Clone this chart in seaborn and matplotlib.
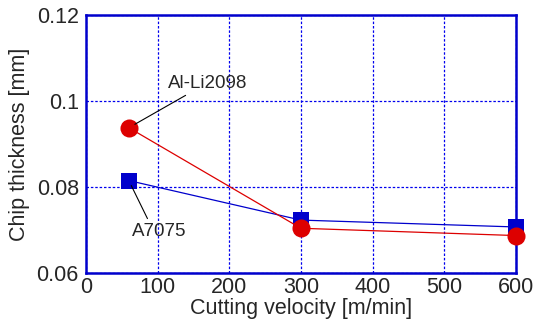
import matplotlib
matplotlib.use("Agg")
import matplotlib.pyplot as plt
import seaborn as sns
import pandas as pd

# Data
velocity = [60, 300, 600]
al_li2098 = [0.0938, 0.0704, 0.0687]
a7075 = [0.0815, 0.0723, 0.0707]

df = pd.DataFrame({
    "velocity": velocity * 2,
    "thickness": al_li2098 + a7075,
    "alloy": ["Al-Li2098"] * 3 + ["A7075"] * 3,
})

sns.set_style("white")
plt.rcParams["font.family"] = ["Liberation Sans", "DejaVu Sans"]

fig, ax = plt.subplots(figsize=(5.33, 3.23), dpi=100)

# blue squares drawn first, red circles on top
sns.lineplot(data=df[df["alloy"] == "A7075"], x="velocity", y="thickness",
             color="#0000cc", marker="s", markersize=11, markeredgewidth=0,
             linewidth=0.9, ax=ax, legend=False, clip_on=False)
sns.lineplot(data=df[df["alloy"] == "Al-Li2098"], x="velocity", y="thickness",
             color="#dd0000", marker="o", markersize=13, markeredgewidth=0,
             linewidth=0.9, ax=ax, legend=False, clip_on=False)

ax.set_xlim(0, 600)
ax.set_ylim(0.06, 0.12)
ax.set_xticks([0, 100, 200, 300, 400, 500, 600])
ax.set_yticks([0.06, 0.08, 0.1, 0.12])
ax.set_yticklabels(["0.06", "0.08", "0.1", "0.12"])
ax.tick_params(length=0, labelsize=15.5)
ax.tick_params(axis="y", pad=5)
ax.tick_params(axis="x", pad=3)

ax.grid(True, color="#0000ee", linestyle=(0, (2, 1.5)), linewidth=0.9)
ax.set_axisbelow(True)
for sp in ax.spines.values():
    sp.set_color("#0000cc")
    sp.set_linewidth(1.8)
    sp.set_zorder(1.5)

ax.set_xlabel("Cutting velocity [m/min]", fontsize=15.5, labelpad=0)
ax.set_ylabel("Chip thickness [mm]", fontsize=15.5, labelpad=5)

# callout labels
ax.annotate("Al-Li2098", xy=(60, al_li2098[0]), xytext=(114, 0.1021),
            fontsize=13.5, ha="left", va="bottom",
            arrowprops=dict(arrowstyle="-", color="black", lw=0.8,
                            shrinkA=0, shrinkB=5, relpos=(0.3, 0)))
ax.annotate("A7075", xy=(60, a7075[0]), xytext=(64, 0.0716),
            fontsize=13.5, ha="left", va="top",
            arrowprops=dict(arrowstyle="-", color="black", lw=0.8,
                            shrinkA=1, shrinkB=4, relpos=(0.33, 1)))

fig.subplots_adjust(left=0.161, right=0.968, top=0.953, bottom=0.155)
fig.savefig("out.png", dpi=100, facecolor="white")
